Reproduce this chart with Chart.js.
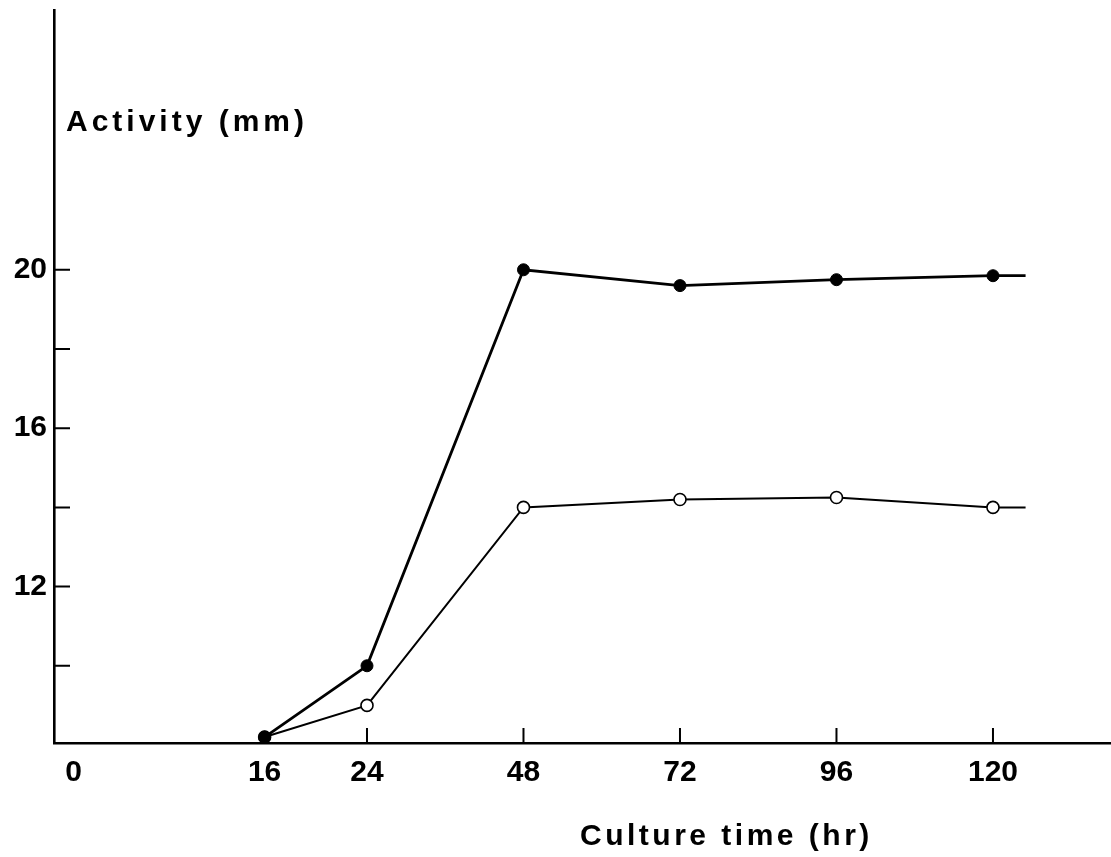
<!DOCTYPE html>
<html>
<head>
<meta charset="utf-8">
<title>Activity vs culture time</title>
<script src="https://cdn.jsdelivr.net/npm/chart.js@4/dist/chart.umd.min.js"></script>
<style>
    html, body { margin: 0; padding: 0; background: #fff; }
    #wrap { width: 1111px; height: 857px; }
</style>
</head>
<body>
<div id="wrap"><canvas id="activityChart"></canvas></div>
<script>
// Sampling times (hr) and measured activity (mm)
const hours = [16, 24, 48, 72, 96, 120, 125];
const filledActivity = [8.2, 10.0, 20.0, 19.6, 19.75, 19.85, 19.85];
const openActivity = [8.2, 9.0, 14.0, 14.2, 14.25, 14.0, 14.0];

// Axis labels
const tickHours = [0, 16, 24, 48, 72, 96, 120];
const activityTicks = [10, 12, 14, 16, 18, 20];
const labelledActivity = [12, 16, 20];

// The early part of the time axis is not drawn to scale:
// each labelled hour sits at its own spot along the axis.
const tickPlace = [-21, 8.3, 24, 48, 72, 96, 120];

function place(h) {
    for (let i = 1; i < tickHours.length; i++) {
        if (h <= tickHours[i]) {
            const t = (h - tickHours[i - 1]) / (tickHours[i] - tickHours[i - 1]);
            return tickPlace[i - 1] + t * (tickPlace[i] - tickPlace[i - 1]);
        }
    }
    const last = tickHours.length - 1;
    return tickPlace[last] + (h - tickHours[last]);
}

const FONT = "'Liberation Sans', Arial, sans-serif";
const markerSizes = hours.map(h => (h > 120 ? 0 : 6));

// Inward tick marks and the two free-standing axis captions
const paperMarks = {
    id: 'paperMarks',
    afterDraw(chart) {
        const { ctx, chartArea } = chart;
        const x = chart.scales.x;
        const y = chart.scales.y;
        ctx.save();
        ctx.strokeStyle = '#000';
        ctx.lineWidth = 2;
        ctx.beginPath();
        activityTicks.forEach(v => {
            const py = y.getPixelForValue(v);
            ctx.moveTo(chartArea.left, py);
            ctx.lineTo(chartArea.left + 16, py);
        });
        tickHours.filter(h => h >= 24).forEach(h => {
            const px = x.getPixelForValue(place(h));
            ctx.moveTo(px, chartArea.bottom);
            ctx.lineTo(px, chartArea.bottom - 15);
        });
        ctx.stroke();

        ctx.fillStyle = '#000';
        ctx.font = 'bold 30px ' + FONT;
        ctx.textAlign = 'left';
        ctx.textBaseline = 'alphabetic';
        ctx.letterSpacing = '4px';
        ctx.fillText('Activity (mm)', 66, 131);
        ctx.letterSpacing = '3.5px';
        ctx.fillText('Culture time (hr)', 580, 845);
        ctx.restore();
    }
};

const toPoints = values => hours.map((h, i) => ({ x: place(h), y: values[i] }));

new Chart(document.getElementById('activityChart'), {
    type: 'line',
    data: {
        datasets: [
            {
                label: 'filled',
                data: toPoints(filledActivity),
                borderColor: '#000',
                borderWidth: 2.8,
                pointRadius: markerSizes,
                pointBackgroundColor: '#000',
                pointBorderColor: '#000',
                pointBorderWidth: 1,
                tension: 0
            },
            {
                label: 'open',
                data: toPoints(openActivity),
                borderColor: '#000',
                borderWidth: 2,
                pointRadius: markerSizes,
                pointBackgroundColor: '#fff',
                pointBorderColor: '#000',
                pointBorderWidth: 1.6,
                tension: 0
            }
        ]
    },
    options: {
        responsive: true,
        maintainAspectRatio: false,
        animation: false,
        layout: {
            autoPadding: false,
            padding: { top: 10, right: 0, left: 0, bottom: 0 }
        },
        plugins: {
            legend: { display: false },
            tooltip: { enabled: false }
        },
        scales: {
            x: {
                type: 'linear',
                min: -24,
                max: 138.1,
                grid: { display: false, drawTicks: false },
                border: { display: true, color: '#000', width: 2.6 },
                afterBuildTicks: scale => {
                    scale.ticks = tickPlace.map(v => ({ value: v }));
                },
                afterFit: scale => {
                    scale.height = 114;
                    scale.paddingLeft = 0;
                    scale.paddingRight = 0;
                },
                ticks: {
                    color: '#000',
                    padding: 12,
                    maxRotation: 0,
                    autoSkip: false,
                    font: { family: FONT, size: 30, weight: 'bold' },
                    callback: value => {
                        const i = tickPlace.indexOf(value);
                        return i >= 0 ? String(tickHours[i]) : '';
                    }
                }
            },
            y: {
                type: 'linear',
                min: 8.05,
                max: 26.56,
                grid: { display: false, drawTicks: false },
                border: { display: true, color: '#000', width: 2.6 },
                afterBuildTicks: scale => {
                    scale.ticks = activityTicks.map(v => ({ value: v }));
                },
                afterFit: scale => {
                    scale.width = 54;
                    scale.paddingTop = 0;
                    scale.paddingBottom = 0;
                },
                ticks: {
                    color: '#000',
                    padding: 7,
                    font: { family: FONT, size: 30, weight: 'bold' },
                    callback: value => (labelledActivity.includes(value) ? String(value) : '')
                }
            }
        }
    },
    plugins: [paperMarks]
});
</script>
</body>
</html>
